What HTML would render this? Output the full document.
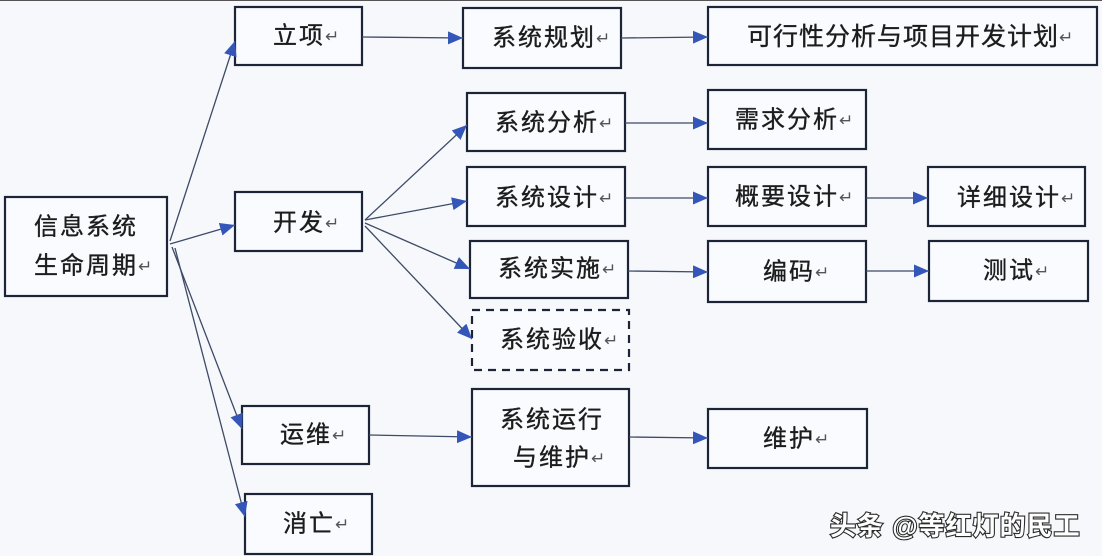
<!DOCTYPE html>
<html><head><meta charset="utf-8">
<style>
html,body{margin:0;padding:0;background:#f6f8fc;}
#c{position:relative;width:1102px;height:556px;overflow:hidden;background:#f6f8fc;border-top:1px solid #555;box-sizing:border-box;}
svg{position:absolute;left:0;top:0;}
text{font-family:"Liberation Sans","Noto Sans CJK SC",sans-serif;fill:#1c1c1c;}
.r{fill:#fafbfe;stroke:#1c2538;stroke-width:2.2;}
.l{stroke:#3e4a66;stroke-width:1.3;fill:none;}
.t{font-size:24px;letter-spacing:2px;stroke:#1c1c1c;stroke-width:0.35px;}
.rt{font-size:17px;fill:#555;stroke:none;letter-spacing:0;}
.wm{font-family:"Liberation Sans","Noto Sans CJK SC",sans-serif;font-size:26px;font-weight:bold;fill:#ffffff;stroke:#2a2a2a;stroke-width:2.2px;paint-order:stroke;letter-spacing:1px;}
</style></head>
<body>
<div id="c">
<svg width="1102" height="556" viewBox="0 0 1102 556">
<defs>
<marker id="a" markerUnits="userSpaceOnUse" markerWidth="16" markerHeight="14" refX="15" refY="6.5" orient="auto">
<path d="M0,0 L15,6.5 L0,13 z" fill="#3456b8"/>
</marker>
</defs>

<!-- boxes -->
<rect class="r" x="5" y="196" width="162" height="99"/>
<rect class="r" x="235" y="6" width="127" height="58"/>
<rect class="r" x="235" y="191" width="127" height="59"/>
<rect class="r" x="242" y="405" width="127" height="58"/>
<rect class="r" x="245" y="493" width="127" height="60"/>
<rect class="r" x="463" y="7" width="158" height="60"/>
<rect class="r" x="467" y="92" width="158" height="58"/>
<rect class="r" x="467" y="166" width="158" height="59"/>
<rect class="r" x="470" y="240" width="158" height="57"/>
<rect class="r" x="472" y="309" width="157" height="60" style="stroke-dasharray:8 6"/>
<rect class="r" x="472" y="388" width="157" height="97"/>
<rect class="r" x="708" y="6" width="389" height="58"/>
<rect class="r" x="708" y="89" width="158" height="59"/>
<rect class="r" x="708" y="166" width="158" height="59"/>
<rect class="r" x="708" y="240" width="158" height="61"/>
<rect class="r" x="708" y="408" width="159" height="59"/>
<rect class="r" x="928" y="166" width="157" height="59"/>
<rect class="r" x="929" y="240" width="159" height="60"/>

<!-- connectors -->
<line class="l" x1="170" y1="240" x2="235" y2="40" marker-end="url(#a)"/>
<line class="l" x1="170" y1="243" x2="235" y2="224" marker-end="url(#a)"/>
<line class="l" x1="172" y1="246" x2="242" y2="428" marker-end="url(#a)"/>
<line class="l" x1="175" y1="247" x2="245" y2="516" marker-end="url(#a)"/>
<line class="l" x1="362" y1="36" x2="463" y2="37" marker-end="url(#a)"/>
<line class="l" x1="621" y1="37" x2="708" y2="36" marker-end="url(#a)"/>
<line class="l" x1="365" y1="219" x2="467" y2="124" marker-end="url(#a)"/>
<line class="l" x1="365" y1="219" x2="467" y2="200" marker-end="url(#a)"/>
<line class="l" x1="365" y1="222" x2="470" y2="268" marker-end="url(#a)"/>
<line class="l" x1="365" y1="225" x2="472" y2="338" marker-end="url(#a)"/>
<line class="l" x1="625" y1="122" x2="708" y2="122" marker-end="url(#a)"/>
<line class="l" x1="625" y1="197" x2="708" y2="197" marker-end="url(#a)"/>
<line class="l" x1="628" y1="270" x2="708" y2="271" marker-end="url(#a)"/>
<line class="l" x1="866" y1="197" x2="928" y2="197" marker-end="url(#a)"/>
<line class="l" x1="866" y1="270" x2="929" y2="270" marker-end="url(#a)"/>
<line class="l" x1="369" y1="434" x2="472" y2="436" marker-end="url(#a)"/>
<line class="l" x1="629" y1="436" x2="708" y2="437" marker-end="url(#a)"/>

<!-- labels -->
<text class="t" x="34" y="226" dominant-baseline="central">信息系统</text>
<text class="t" x="34" y="265" dominant-baseline="central">生命周期<tspan class="rt">↵</tspan></text>
<text class="t" x="273" y="35" dominant-baseline="central">立项<tspan class="rt">↵</tspan></text>
<text class="t" x="273" y="222" dominant-baseline="central">开发<tspan class="rt">↵</tspan></text>
<text class="t" x="280" y="434" dominant-baseline="central">运维<tspan class="rt">↵</tspan></text>
<text class="t" x="283" y="523" dominant-baseline="central">消亡<tspan class="rt">↵</tspan></text>
<text class="t" x="492" y="37" dominant-baseline="central">系统规划<tspan class="rt">↵</tspan></text>
<text class="t" x="495" y="122" dominant-baseline="central">系统分析<tspan class="rt">↵</tspan></text>
<text class="t" x="495" y="197" dominant-baseline="central">系统设计<tspan class="rt">↵</tspan></text>
<text class="t" x="498" y="268" dominant-baseline="central">系统实施<tspan class="rt">↵</tspan></text>
<text class="t" x="500" y="339" dominant-baseline="central">系统验收<tspan class="rt">↵</tspan></text>
<text class="t" x="500" y="419" dominant-baseline="central">系统运行</text>
<text class="t" x="513" y="457" dominant-baseline="central">与维护<tspan class="rt">↵</tspan></text>
<text class="t" x="747" y="36" dominant-baseline="central" style="font-size:25px;letter-spacing:1px">可行性分析与项目开发计划<tspan class="rt">↵</tspan></text>
<text class="t" x="735" y="119" dominant-baseline="central">需求分析<tspan class="rt">↵</tspan></text>
<text class="t" x="735" y="196" dominant-baseline="central">概要设计<tspan class="rt">↵</tspan></text>
<text class="t" x="763" y="271" dominant-baseline="central">编码<tspan class="rt">↵</tspan></text>
<text class="t" x="763" y="438" dominant-baseline="central">维护<tspan class="rt">↵</tspan></text>
<text class="t" x="957" y="197" dominant-baseline="central">详细设计<tspan class="rt">↵</tspan></text>
<text class="t" x="983" y="270" dominant-baseline="central">测试<tspan class="rt">↵</tspan></text>

<!-- watermark -->
<text class="wm" x="830" y="525" dominant-baseline="central">头条 @等红灯的民工</text>
</svg>
</div>
</body></html>
